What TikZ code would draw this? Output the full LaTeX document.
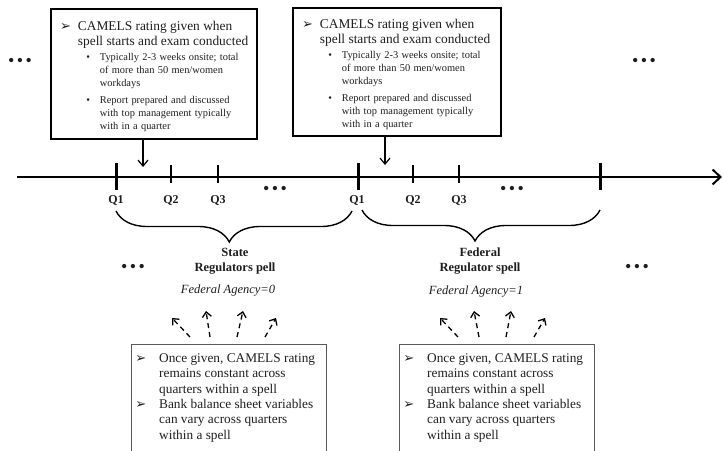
\documentclass[tikz,border=0pt]{standalone}
\usepackage{fontspec}
\setmainfont{Liberation Serif}
\newfontfamily\symfont{DejaVu Sans}
\usetikzlibrary{arrows.meta,decorations.pathreplacing,calc}

% list marks
\newcommand{\arrowmark}{{\symfont\fontsize{13}{11}\selectfont ➢}}
% #1 = text indent, #2 = gap after mark, #3 = mark, #4 = text
\newcommand{\markedpar}[4]{\par\leftskip=#1\noindent\llap{#3\hspace{#2}}#4\par}
\newcommand{\threedots}{{\fontsize{18}{18}\selectfont\textbullet\hspace{2.5pt}\textbullet\hspace{2.5pt}\textbullet}}

\definecolor{ink}{HTML}{1E1E1E}
\definecolor{frame}{HTML}{5A5A5A}

\tikzset{
  topbox/.style={draw=black, line width=1.8pt, anchor=north west, inner xsep=8pt,
    inner ysep=5pt, text width=#1, align=left, text=ink},
  lowtext/.style={anchor=north west, inner xsep=4pt, inner ysep=3pt,
    text width=#1, align=left, text=ink},
  lowframe/.style={draw=frame, line width=1pt},
  timeline/.style={line width=2.4pt, -{Straight Barb[length=8pt,width=15pt,line width=2pt]}},
  majortick/.style={line width=3pt},
  minortick/.style={line width=1.5pt},
  drop/.style={line width=1.2pt, -{Straight Barb[length=6pt,width=10pt]}},
  spread/.style={line width=1.3pt, dash pattern=on 5pt off 4pt,
    -{Straight Barb[length=5pt,width=9pt]}},
  qlabel/.style={font=\bfseries\fontsize{12}{12}\selectfont, text=ink, anchor=north, inner sep=1pt},
  spellbrace/.style={line width=1.4pt, decorate,
    decoration={brace, mirror, amplitude=31pt, aspect=#1}},
  spelltitle/.style={font=\bfseries\fontsize{12.5}{15}\selectfont, align=center, text=ink},
  agency/.style={font=\itshape\fontsize{12.5}{14}\selectfont, text=ink},
  moredots/.style={inner sep=0pt, text=ink},
}

\newcommand{\topcontent}{%
  {\fontsize{13.4}{15}\selectfont
   \markedpar{19pt}{7pt}{\arrowmark}{CAMELS rating given when\newline spell starts and exam conducted}}%
  \vspace{2pt}%
  {\fontsize{10.4}{13}\selectfont
   \markedpar{41pt}{10pt}{\textbullet}{Typically 2-3 weeks onsite; total\newline of more than 50 men/women\newline workdays}%
   \vspace{4pt}%
   \markedpar{41pt}{10pt}{\textbullet}{Report prepared and discussed\newline with top management typically\newline with in a quarter}}}

\newcommand{\lowcontent}{%
  {\fontsize{13.3}{15.3}\selectfont
   \markedpar{24pt}{13pt}{\arrowmark}{Once given, CAMELS rating\newline remains constant across\newline quarters within a spell}%
   \markedpar{24pt}{13pt}{\arrowmark}{Bank balance sheet variables\newline can vary across quarters\newline within a spell}}}

\begin{document}
\begin{tikzpicture}[x=1pt, y=-1pt]
  \useasboundingbox (0,0) rectangle (723,450);

  % exam boxes above the time line
  \node[topbox=190pt, minimum height=130pt] (examA) at (50,8) {\topcontent};
  \node[topbox=192pt, minimum height=128pt] (examB) at (292,7) {\topcontent};

  % time line and quarter ticks
  \coordinate (tlstart) at (17,177);
  \coordinate (tlend) at (722,177);
  \draw[timeline] (tlstart) -- (tlend);

  \coordinate (qa1) at (116,177);
  \coordinate (qa2) at (171,177);
  \coordinate (qa3) at (218,177);
  \coordinate (qb1) at (358,177);
  \coordinate (qb2) at (413,177);
  \coordinate (qb3) at (459,177);
  \coordinate (qend) at (600,177);

  \foreach \t in {qa1,qb1,qend}
    \draw[majortick] ($(\t)+(0,-14)$) -- ($(\t)+(0,13)$);
  \foreach \t in {qa2,qa3,qb2,qb3}
    \draw[minortick] ($(\t)+(0,-12)$) -- ($(\t)+(0,6)$);

  \node[qlabel] (la1) at (116,194) {Q1};
  \node[qlabel] (la2) at (171,194) {Q2};
  \node[qlabel] (la3) at (218,194) {Q3};
  \node[qlabel] (lb1) at (357,194) {Q1};
  \node[qlabel] (lb2) at (413,194) {Q2};
  \node[qlabel] (lb3) at (459,194) {Q3};

  \node[moredots] (tdotsA) at (275,190) {\threedots};
  \node[moredots] (tdotsB) at (512,190) {\threedots};

  % exam start arrows
  \coordinate (hitA) at (143,167);
  \coordinate (hitB) at (385,165);
  \draw[drop] (examA.south -| hitA) -- (hitA);
  \draw[drop] (examB.south -| hitB) -- (hitB);

  % spell braces
  \coordinate (spAs) at (116,211);
  \coordinate (spAe) at (352,211);
  \coordinate (spBs) at (362,210);
  \coordinate (spBe) at (600,210);
  \draw[spellbrace=0.48] (spAs) -- (spAe);
  \draw[spellbrace=0.475] (spBs) -- (spBe);

  % spell titles
  \node[spelltitle] (stateT) at (235,261) {State\\Regulators pell};
  \node[spelltitle] (fedT) at (480,261) {Federal\\Regulator spell};
  \node[agency] (stateAg) at (228,291) {Federal Agency=0};
  \node[agency] (fedAg) at (476,292) {Federal Agency=1};

  % ellipses continuing the sequence
  \node[moredots] (dotsTL) at (20,62) {\threedots};
  \node[moredots] (dotsTR) at (644,62) {\threedots};
  \node[moredots] (dotsML) at (133,268) {\threedots};
  \node[moredots] (dotsMR) at (637,268) {\threedots};

  % properties within a spell
  \coordinate (floor) at (0,453);
  \node[lowtext=187pt] (keepA) at (131,344) {\lowcontent};
  \node[lowtext=187pt] (keepB) at (399,344) {\lowcontent};
  \draw[lowframe] (keepA.north west |- floor) -- (keepA.north west)
                  -- (keepA.north east) -- (keepA.north east |- floor);
  \draw[lowframe] (keepB.north west |- floor) -- (keepB.north west)
                  -- (keepB.north east) -- (keepB.north east |- floor);

  % dashed arrows fanning out of each box
  \coordinate (a1s) at (190,337); \coordinate (a1e) at (172,318);
  \coordinate (a2s) at (210,337); \coordinate (a2e) at (206,311);
  \coordinate (a3s) at (237,337); \coordinate (a3e) at (243,311);
  \coordinate (a4s) at (265,337); \coordinate (a4e) at (276,318);
  \coordinate (b1s) at (458,337); \coordinate (b1e) at (440,318);
  \coordinate (b2s) at (479,337); \coordinate (b2e) at (474,311);
  \coordinate (b3s) at (506,337); \coordinate (b3e) at (511,311);
  \coordinate (b4s) at (534,337); \coordinate (b4e) at (545,318);
  \foreach \p in {a1,a2,a3,a4,b1,b2,b3,b4}
    \draw[spread] (\p s) -- (\p e);
\end{tikzpicture}
\end{document}
